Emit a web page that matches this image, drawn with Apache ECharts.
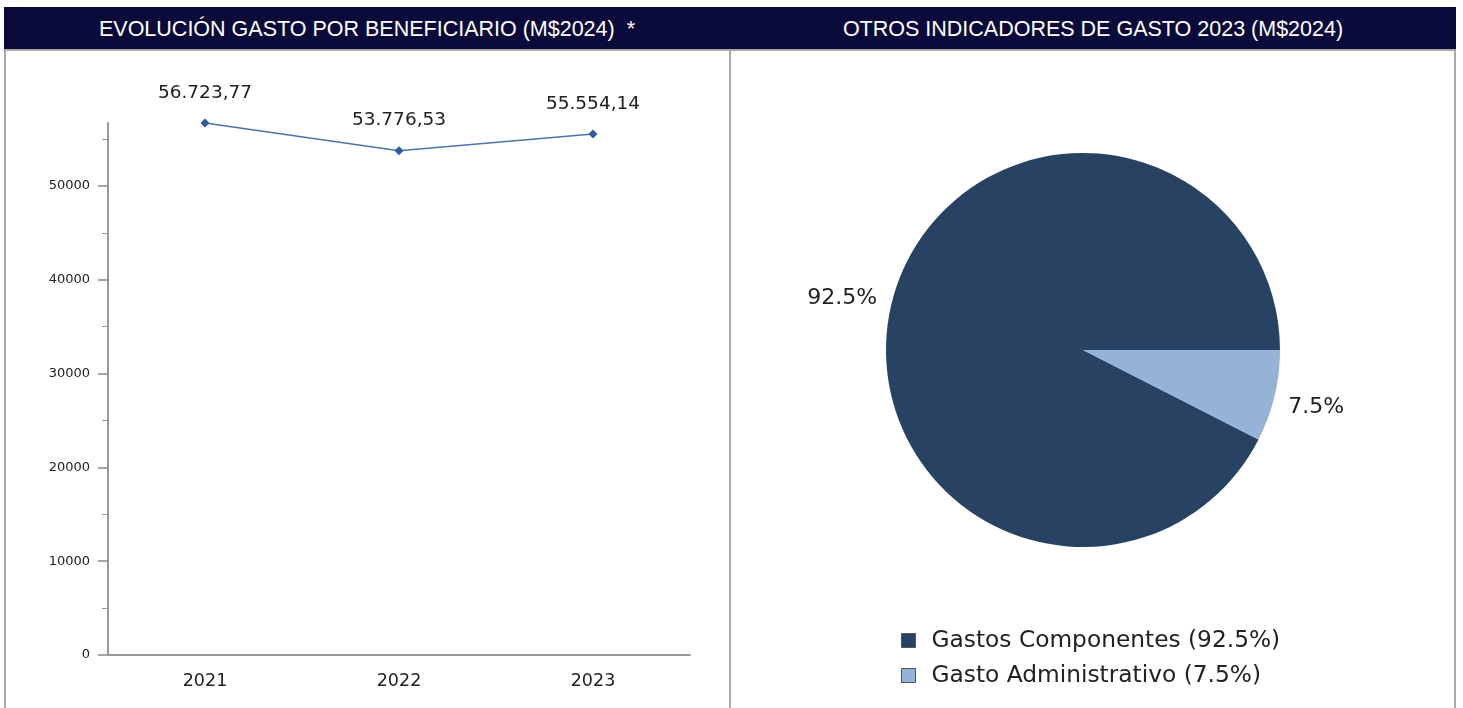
<!DOCTYPE html>
<html>
<head>
<meta charset="utf-8">
<title>Gasto por beneficiario</title>
<script src="https://cdn.jsdelivr.net/npm/echarts@6/dist/echarts.min.js"></script>
<style>
  body { margin: 0; background: #fff; }
  .hdr { position: absolute; top: 7px; height: 42px; background: #0b0b3b; color: #fff;
         font-family: "Liberation Sans", Arial, sans-serif; font-size: 21.5px; line-height: 44px; text-align: center; }
  .line { position: absolute; background: #a9a9a9; }
  #chart { position: absolute; left: 0; top: 0; width: 1463px; height: 708px; }
</style>
</head>
<body>
<div class="hdr" style="left:4px;width:726px;">EVOLUCIÓN GASTO POR BENEFICIARIO (M$2024)&nbsp; *</div>
<div class="hdr" style="left:730px;width:726px;">OTROS INDICADORES DE GASTO 2023 (M$2024)</div>
<div class="line" style="left:4px;top:49px;width:1452px;height:2px;"></div>
<div class="line" style="left:4px;top:49px;width:2px;height:659px;"></div>
<div class="line" style="left:729px;top:49px;width:2px;height:659px;"></div>
<div class="line" style="left:1454px;top:49px;width:2px;height:659px;"></div>
<div id="chart"></div>
<script>
// datos línea
var years = ['2021', '2022', '2023'];
var gastoBenef = [56723.77, 53776.53, 55554.14];
var yTicks = [0, 10000, 20000, 30000, 40000, 50000];

// datos torta
var pieNames = ['Gastos Componentes', 'Gasto Administrativo'];
var pieValues = [92.5, 7.5];
var pieColors = ['#274263', '#95b3d7'];

function fmtCL(v) {
    var parts = v.toFixed(2).split('.');
    return parts[0].replace(/\B(?=(\d{3})+(?!\d))/g, '.') + ',' + parts[1];
}

// posición de etiquetas de la torta
var pieLabelLines = [{ length: 25, length2: -10 }, { length: 50, length2: -35 }];
var pieData = pieNames.map(function (n, i) {
    return { name: n, value: pieValues[i], labelLine: pieLabelLines[i] };
});

var myChart = echarts.init(document.getElementById('chart'));
var option = {
    animation: false,
    textStyle: { fontFamily: 'DejaVu Sans' },
    grid: { left: 108, top: 123, width: 582, height: 532 },
    xAxis: {
        type: 'category',
        data: years,
        axisLine: { lineStyle: { color: '#999', width: 2 } },
        axisTick: { show: false },
        axisLabel: { color: '#222', fontSize: 17.5, margin: 17 }
    },
    yAxis: {
        type: 'value',
        min: 0,
        max: 'dataMax',
        interval: 10000,
        splitLine: { show: false },
        axisLine: { show: true, lineStyle: { color: '#999', width: 2 } },
        axisTick: { show: true, length: 10, customValues: yTicks, lineStyle: { color: '#888', width: 1.5 } },
        minorTick: { show: true, splitNumber: 2, length: 6, lineStyle: { color: '#999' } },
        axisLabel: {
            color: '#222', fontSize: 13, margin: 18, customValues: yTicks,
            formatter: function (v) { return String(v); }
        }
    },
    legend: {
        orient: 'vertical',
        left: 896,
        top: 623,
        icon: 'rect',
        itemWidth: 14,
        itemHeight: 14,
        itemGap: 10,
        data: pieNames,
        itemStyle: { borderColor: '#555', borderWidth: 1 },
        textStyle: { fontSize: 23.3, lineHeight: 25, color: '#222', padding: [0, 0, 0, 11] },
        formatter: function (name) {
            var i = pieNames.indexOf(name);
            return name + ' (' + pieValues[i].toFixed(1) + '%)';
        }
    },
    series: [
        {
            type: 'line',
            data: gastoBenef,
            symbol: 'diamond',
            symbolSize: 9,
            lineStyle: { color: '#4a74b0', width: 1.5 },
            itemStyle: { color: '#2d5a9c' },
            label: {
                show: true,
                position: 'top',
                distance: 16,
                fontSize: 18.5,
                color: '#222',
                formatter: function (p) { return fmtCL(p.value); }
            }
        },
        {
            type: 'pie',
            center: [1083, 350],
            radius: 197,
            startAngle: -27,
            clockwise: true,
            color: pieColors,
            data: pieData,
            label: {
                show: true,
                position: 'outside',
                fontSize: 22,
                color: '#222',
                distanceToLabelLine: 0,
                formatter: function (p) { return p.value.toFixed(1) + '%'; }
            },
            labelLine: { show: false },
            emphasis: { disabled: true }
        }
    ]
};
myChart.setOption(option);
</script>
</body>
</html>
